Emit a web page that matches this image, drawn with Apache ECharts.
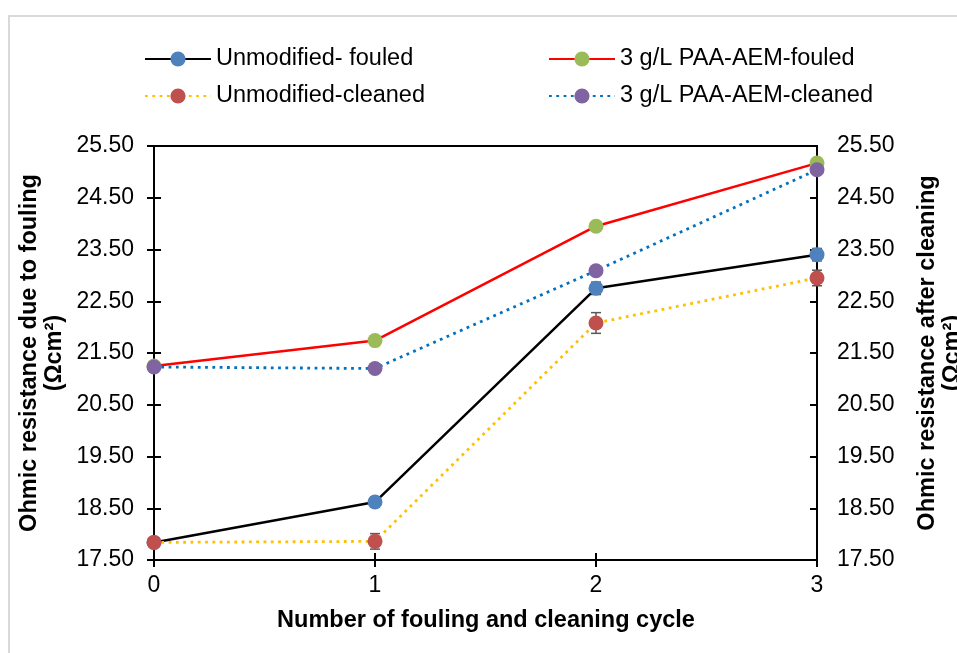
<!DOCTYPE html>
<html><head><meta charset="utf-8">
<script src="https://cdn.jsdelivr.net/npm/echarts@6/dist/echarts.min.js"></script>
<style>html,body{margin:0;padding:0;background:#fff}#c{width:957px;height:653px}</style>
</head><body><div id="c"></div>
<script>
const cycles = [0, 1, 2, 3];
const unmodFouled = [17.84, 18.62, 22.75, 23.40];
const unmodFouledErr = [0.05, 0.10, 0.12, 0.12];
const unmodCleaned = [17.84, 17.86, 22.08, 22.95];
const unmodCleanedErr = [0.08, 0.15, 0.20, 0.15];
const paaFouled = [21.25, 21.74, 23.95, 25.17];
const paaFouledErr = [0.04, 0.06, 0.06, 0.06];
const paaCleaned = [21.23, 21.20, 23.09, 25.04];
const paaCleanedErr = [0.04, 0.06, 0.06, 0.06];
const yTicks = { min: 17.5, max: 25.5, interval: 1 };

const names = ['Unmodified- fouled', '3 g/L PAA-AEM-fouled', 'Unmodified-cleaned', '3 g/L PAA-AEM-cleaned'];
const FONT = 'Liberation Sans, Arial, sans-serif';

function pairs(v) { return cycles.map((c, i) => [c, v[i]]); }
function errData(v, e) { return cycles.map((c, i) => [c, v[i] - e[i], v[i] + e[i]]); }

function errSeries(v, e) {
  return {
    type: 'custom', xAxisIndex: 0, yAxisIndex: 0, z: 1, silent: true,
    data: errData(v, e),
    renderItem: function (params, api) {
      const x = api.value(0);
      const lo = api.coord([x, api.value(1)]);
      const hi = api.coord([x, api.value(2)]);
      const w = 5;
      const st = { stroke: '#595959', lineWidth: 1.5 };
      return { type: 'group', children: [
        { type: 'line', shape: { x1: lo[0], y1: lo[1], x2: hi[0], y2: hi[1] }, style: st },
        { type: 'line', shape: { x1: lo[0] - w, y1: lo[1], x2: lo[0] + w, y2: lo[1] }, style: st },
        { type: 'line', shape: { x1: hi[0] - w, y1: hi[1], x2: hi[0] + w, y2: hi[1] }, style: st }
      ]};
    }
  };
}

function lineSeries(name, v, lineColor, markColor, type, z) {
  return {
    name: name, type: 'line', data: pairs(v), z: z,
    symbol: 'circle', symbolSize: 15,
    itemStyle: { color: markColor },
    lineStyle: { color: lineColor, width: type === 'solid' ? 2.5 : 2.8, type: type === 'solid' ? 'solid' : [2.8, 4.5] },
    emphasis: { disabled: true }
  };
}

const yBase = {
  type: 'value', min: yTicks.min, max: yTicks.max, interval: yTicks.interval,
  splitLine: { show: false },
  axisLine: { show: true, lineStyle: { color: '#000', width: 2 } },
  axisTick: { show: true, length: 7, lineStyle: { color: '#000', width: 2 } }
};
const yLabel = { show: true, fontFamily: FONT, fontSize: 23, color: '#000', margin: 20, formatter: v => v.toFixed(2) };

const legendBase = {
  itemWidth: 66, itemHeight: 19, itemGap: 10,
  textStyle: { fontFamily: FONT, fontSize: 23.5, color: '#000' },
  selectedMode: false
};

const option = {
  animation: false,
  backgroundColor: '#fff',
  grid: { left: 154, right: 140, top: 146, bottom: 93, show: true, borderColor: '#000', borderWidth: 2, containLabel: false },
  legend: [
    Object.assign({ left: 139, top: 42, data: [names[0]] }, legendBase),
    Object.assign({ left: 543, top: 42, data: [names[1]] }, legendBase),
    Object.assign({ left: 139, top: 79, data: [names[2]] }, legendBase),
    Object.assign({ left: 543, top: 79, data: [names[3]] }, legendBase)
  ],
  xAxis: [{
    type: 'value', min: 0, max: 3, interval: 1,
    splitLine: { show: false },
    axisLine: { show: true, onZero: false, lineStyle: { color: '#000', width: 2 } },
    axisTick: { show: true, length: 7, lineStyle: { color: '#000', width: 2 } },
    axisLabel: { fontFamily: FONT, fontSize: 23, color: '#000', margin: 14 }
  }, {
    type: 'value', min: 0, max: 3, interval: 1, position: 'bottom',
    splitLine: { show: false },
    axisLine: { show: false, onZero: false },
    axisTick: { show: true, inside: true, length: 7, lineStyle: { color: '#000', width: 2 } },
    axisLabel: { show: false }
  }],
  yAxis: [
    Object.assign({}, yBase, { position: 'left', axisLabel: yLabel }),
    Object.assign({}, yBase, { position: 'right', axisLabel: yLabel }),
    Object.assign({}, yBase, { position: 'left', axisLine: { show: false }, axisTick: { show: true, inside: true, length: 7, lineStyle: { color: '#000', width: 2 } }, axisLabel: { show: false } }),
    Object.assign({}, yBase, { position: 'right', axisLine: { show: false }, axisTick: { show: true, inside: true, length: 7, lineStyle: { color: '#000', width: 2 } }, axisLabel: { show: false } })
  ],
  series: [
    errSeries(unmodFouled, unmodFouledErr),
    errSeries(unmodCleaned, unmodCleanedErr),
    errSeries(paaFouled, paaFouledErr),
    errSeries(paaCleaned, paaCleanedErr),
    lineSeries(names[0], unmodFouled, '#000000', '#4f81bd', 'solid', 3),
    lineSeries(names[1], paaFouled, '#ff0000', '#9bbb59', 'solid', 3),
    lineSeries(names[2], unmodCleaned, '#ffc000', '#c0504d', 'dotted', 4),
    lineSeries(names[3], paaCleaned, '#0070c0', '#8064a2', 'dotted', 4)
  ],
  graphic: [
    { type: 'polyline', shape: { points: [[9, 653], [9, 16], [957, 16]] }, style: { stroke: '#d9d9d9', lineWidth: 2, fill: null }, silent: true },
    { type: 'text', x: 42, y: 353, rotation: Math.PI / 2, silent: true,
      style: { text: 'Ohmic resistance due to fouling\n(Ωcm²)', fontFamily: FONT, fontSize: 23.5, fontWeight: 'bold', fill: '#000', align: 'center', verticalAlign: 'middle', lineHeight: 25 } },
    { type: 'text', x: 940, y: 353, rotation: Math.PI / 2, silent: true,
      style: { text: 'Ohmic resistance after cleaning\n(Ωcm²)', fontFamily: FONT, fontSize: 23.5, fontWeight: 'bold', fill: '#000', align: 'center', verticalAlign: 'middle', lineHeight: 25 } },
    { type: 'text', x: 486, y: 621, silent: true,
      style: { text: 'Number of fouling and cleaning cycle', fontFamily: FONT, fontSize: 23.5, fontWeight: 'bold', fill: '#000', align: 'center', verticalAlign: 'middle' } }
  ]
};

const chart = echarts.init(document.getElementById('c'), null, { renderer: 'canvas' });
chart.setOption(option);
</script></body></html>
